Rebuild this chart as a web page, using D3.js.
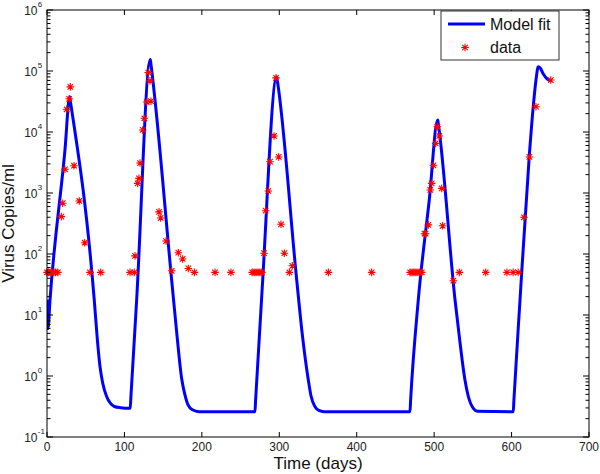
<!DOCTYPE html>
<html><head><meta charset="utf-8">
<script src="https://cdn.jsdelivr.net/npm/d3@7"></script>
<style>html,body{margin:0;padding:0;background:#fff;}svg{display:block;font-family:Arial,"Liberation Sans",sans-serif;}</style>
</head><body><svg id="c" width="600" height="474"></svg>
<script>
// Model fit curve
const modelDays = [0, 1.3, 3.9, 23.2, 29.3, 30.2, 61, 65, 68.5, 72, 77, 82, 87, 95, 107.5,
  108.3, 115.8, 133.4, 134.2, 161, 168, 174, 178, 182, 188, 196, 268.6,
  269.4, 278, 296.6, 297.4, 322.5, 330, 337.5, 341, 346, 351, 358, 468.8,
  469.6, 479.5, 493.7, 504.6, 505.4, 527, 533, 539.8, 544, 550.6, 556, 602.2,
  603, 610.9, 622.8, 628, 631.5, 634.5, 637, 641, 646, 652];
const modelCopies = [17.8, 6.0, 17.8, 5070, 38000, 32000, 17.8, 4.0, 1.41, 0.76, 0.46, 0.355, 0.316, 0.302, 0.295,
  0.44, 17.8, 155000, 130000, 37.5, 4.47, 0.89, 0.50, 0.34, 0.279, 0.26, 0.26,
  0.40, 28.2, 80000, 70000, 37.5, 4.47, 0.86, 0.47, 0.316, 0.272, 0.26, 0.26,
  0.40, 17.6, 767, 15700, 13500, 17.6, 3.9, 0.86, 0.47, 0.295, 0.265, 0.26,
  0.40, 17.6, 3940, 26000, 70800, 117500, 112000, 89000, 74000, 69000];

// Measured data
const dataDays = [0, 2, 4, 6, 9, 11, 14, 18.5, 20.3, 23.2, 25.4, 28.6, 30.1, 34.9, 41.7, 48.7, 55.5, 69.4,
  107.2, 112.7, 113.7, 117.1, 118.8, 120.1, 123.6, 125.7, 128.7, 130.8, 133.0, 134.3, 144.7, 146.8, 153.7,
  161, 169.6, 175.2, 182.5, 190.3, 217, 237.6,
  265, 267.5, 270, 272.5, 275, 277.5, 280.3, 282.4, 285.8, 288, 293.2, 295.8, 299.2, 302.2, 306.5, 313, 316.8,
  363.4, 419.3,
  469, 471.5, 474, 476.5, 479, 481.5, 484, 487.5, 489, 492.5, 495, 496.8, 499, 502, 504.1, 506.7, 509.8, 511,
  524.8, 532.5, 566.6, 594, 602, 608.5, 616, 623, 631.5, 650.6];
const dataCopies = [50, 50, 50, 50, 50, 50, 50, 410, 680, 2450, 23600, 35000, 55000, 2800, 740, 153, 50, 50,
  50, 50, 93, 1440, 1740, 3100, 10800, 16800, 31000, 94000, 69000, 32000, 490, 390, 163,
  53, 105, 83, 58, 50, 50, 50,
  50, 50, 50, 50, 50, 50, 103, 513, 1080, 3260, 8600, 77000, 3900, 307, 103, 50, 64,
  50, 50,
  50, 50, 50, 50, 50, 50, 50, 215, 215, 300, 1120, 1440, 2850, 6500, 12200, 8600, 1190, 290,
  36.5, 50, 50, 50, 50, 50, 400, 3900, 26000, 71000];

const xTicks = [0, 100, 200, 300, 400, 500, 600, 700];
const yTickExponents = [-1, 0, 1, 2, 3, 4, 5, 6];
const legendLabels = ["Model fit", "data"];

const W = 600, H = 474;
const m = {left: 47, top: 10, right: 589, bottom: 437};
const svg = d3.select("#c");
const x = d3.scaleLinear().domain([0, 700]).range([m.left, m.right]);
const y = d3.scaleLog().domain([0.1, 1e6]).range([m.bottom, m.top]);

svg.append("rect").attr("width", W).attr("height", H).attr("fill", "#fff");

const clip = svg.append("clipPath").attr("id", "pc").append("rect")
  .attr("x", m.left).attr("y", m.top - 2).attr("width", m.right - m.left).attr("height", m.bottom - m.top + 2);

// model line
const model = modelDays.map((d, i) => [d, modelCopies[i]]);
svg.append("path").datum(model)
  .attr("clip-path", "url(#pc)")
  .attr("fill", "none").attr("stroke", "#0000ff").attr("stroke-width", 3).attr("stroke-linejoin", "round")
  .attr("d", d3.line().x(d => x(d[0])).y(d => y(d[1])).curve(d3.curveMonotoneX));

// star marker
function starPath(r) {
  const a = r * 0.72;
  return `M${-r},0L${r},0M0,${-r}L0,${r}M${-a},${-a}L${a},${a}M${-a},${a}L${a},${-a}`;
}
const data = dataDays.map((d, i) => [d, dataCopies[i]]);
svg.append("g").selectAll("path").data(data).join("path")
  .attr("transform", d => `translate(${x(d[0])},${y(d[1])})`)
  .attr("d", starPath(3.8)).attr("stroke", "#ff0000").attr("stroke-width", 1.1).attr("fill", "none");

// axes box
svg.append("rect").attr("x", m.left).attr("y", m.top).attr("width", m.right - m.left).attr("height", m.bottom - m.top)
  .attr("fill", "none").attr("stroke", "#000").attr("stroke-width", 1);

// x ticks (inward, bottom and top)
const gx = svg.append("g");
xTicks.forEach(t => {
  gx.append("line").attr("x1", x(t)).attr("x2", x(t)).attr("y1", m.bottom).attr("y2", m.bottom - 5).attr("stroke", "#000");
  gx.append("line").attr("x1", x(t)).attr("x2", x(t)).attr("y1", m.top).attr("y2", m.top + 5).attr("stroke", "#000");
  gx.append("text").attr("x", x(t)).attr("y", 451).attr("text-anchor", "middle")
    .attr("font-size", 12).attr("fill", "#222").text(t);
});

// y ticks (log, with minors)
const gy = svg.append("g");
yTickExponents.forEach(e => {
  const v = Math.pow(10, e);
  const yy = y(v);
  gy.append("line").attr("x1", m.left).attr("x2", m.left + 6).attr("y1", yy).attr("y2", yy).attr("stroke", "#000");
  gy.append("line").attr("x1", m.right).attr("x2", m.right - 6).attr("y1", yy).attr("y2", yy).attr("stroke", "#000");
  const tx = gy.append("text").attr("x", 37.5).attr("y", yy + 4.5).attr("text-anchor", "end")
    .attr("font-size", 12).attr("fill", "#222");
  tx.append("tspan").text("10");
  gy.append("text").attr("x", 37.8).attr("y", yy - 3).attr("font-size", 8).attr("fill", "#222").text(e);
  if (e < 6) {
    for (let k = 2; k <= 9; k++) {
      const ym = y(k * v);
      gy.append("line").attr("x1", m.left).attr("x2", m.left + 3.5).attr("y1", ym).attr("y2", ym).attr("stroke", "#000");
      gy.append("line").attr("x1", m.right).attr("x2", m.right - 3.5).attr("y1", ym).attr("y2", ym).attr("stroke", "#000");
    }
  }
});

// axis titles
svg.append("text").attr("x", (m.left + m.right) / 2).attr("y", 469).attr("text-anchor", "middle")
  .attr("font-size", 17).attr("fill", "#111").text("Time (days)");
svg.append("text").attr("transform", `translate(14,${(m.top + m.bottom) / 2}) rotate(-90)`)
  .attr("text-anchor", "middle").attr("font-size", 17).attr("fill", "#111").text("Virus Copies/ml");

// legend
const lg = svg.append("g");
lg.append("rect").attr("x", 441).attr("y", 11).attr("width", 118).attr("height", 49)
  .attr("fill", "#fff").attr("stroke", "#333").attr("stroke-width", 1);
lg.append("line").attr("x1", 448).attr("x2", 485).attr("y1", 24).attr("y2", 24)
  .attr("stroke", "#0000ff").attr("stroke-width", 3);
lg.append("text").attr("x", 490).attr("y", 30).attr("font-size", 16).attr("fill", "#111").text(legendLabels[0]);
lg.append("path").attr("transform", "translate(465,47.5)").attr("d", starPath(3.8))
  .attr("stroke", "#ff0000").attr("stroke-width", 1.1).attr("fill", "none");
lg.append("text").attr("x", 490).attr("y", 53).attr("font-size", 16).attr("fill", "#111").text(legendLabels[1]);
</script></body></html>
